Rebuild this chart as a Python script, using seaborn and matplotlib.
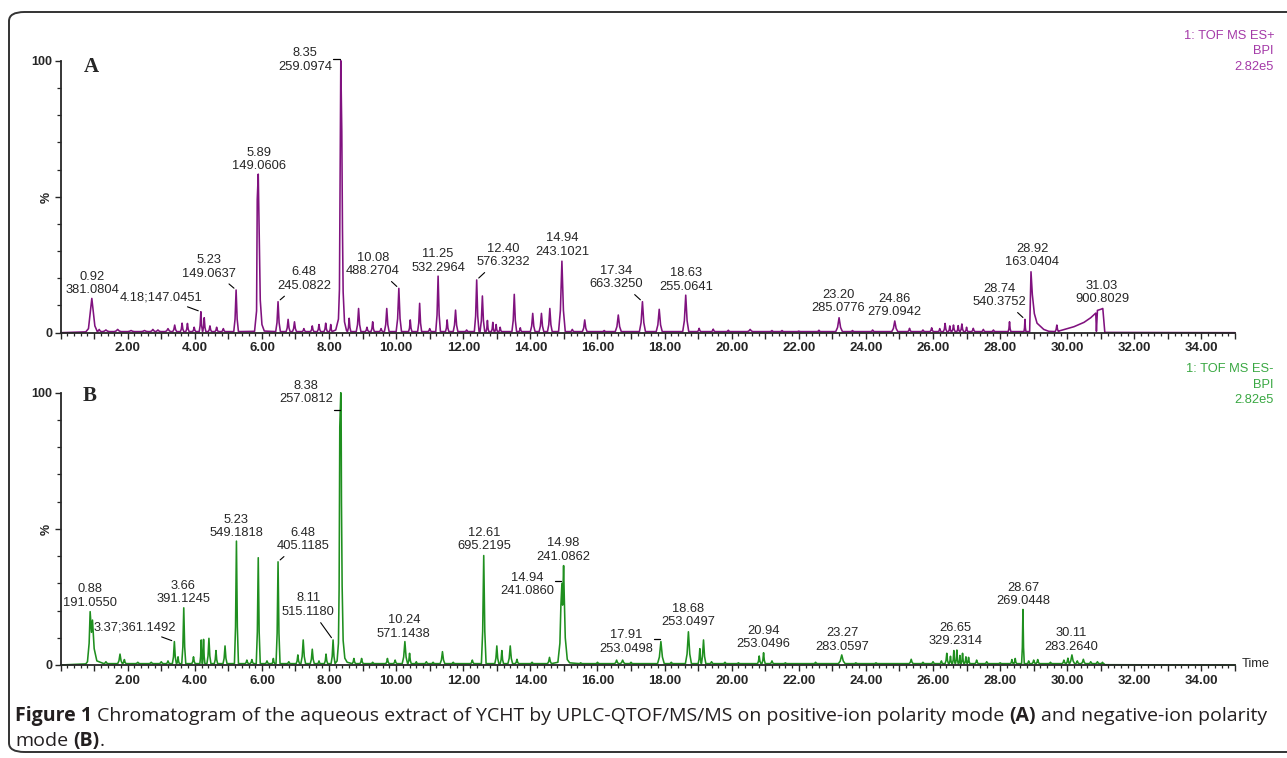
import matplotlib
matplotlib.use("Agg")
import matplotlib.pyplot as plt
import numpy as np
import pandas as pd
import seaborn as sns
from matplotlib.ticker import MultipleLocator, FuncFormatter
from matplotlib.patches import FancyBboxPatch

# ---------------- data ----------------
# Panel A, ESI+ : simple peaks (apex time, relative intensity %, half base width)
a_rt = [1.15, 1.35, 1.7, 2.1, 2.5, 2.75, 2.9, 3.2, 3.40, 3.62, 3.78, 3.98, 4.18, 4.28, 4.45,
        4.65, 4.85, 5.23, 6.48, 6.78, 6.97, 7.25, 7.5, 7.7, 7.9, 8.05, 8.60, 8.88, 9.13, 9.30,
        9.55, 9.72, 10.08, 10.42, 10.70, 11.0, 11.25, 11.52, 11.77, 12.1, 12.40, 12.57, 12.72,
        12.88, 12.98, 13.1, 13.52, 13.7, 14.07, 14.33, 14.58, 14.94, 15.25, 15.62, 16.2, 16.62,
        17.34, 17.84, 18.63, 19.03, 19.45, 19.9, 20.55, 21.2, 21.5, 22.0, 22.6, 23.20, 23.6,
        24.2, 24.86, 25.3, 25.7, 25.96, 26.2, 26.36, 26.5, 26.61, 26.75, 26.86, 27.0, 27.2,
        27.5, 27.8, 28.28, 28.74, 29.69]
a_int = [1.2, 1.0, 1.2, 0.8, 0.8, 1.2, 1.0, 1.5, 2.8, 3.5, 3.4, 2.0, 7.7, 5.5, 2.5,
         2.0, 1.5, 15.7, 11.4, 4.9, 4.0, 1.5, 2.5, 3.0, 3.5, 3.0, 5.3, 8.9, 2.0, 4.0,
         1.5, 8.9, 16.3, 4.7, 10.8, 1.5, 20.8, 4.7, 8.3, 1.0, 19.4, 13.5, 4.5,
         3.8, 3.0, 2.0, 14.1, 1.8, 7.1, 7.1, 8.9, 26.3, 1.2, 4.7, 0.8, 6.5,
         11.4, 8.6, 13.8, 1.6, 1.3, 0.9, 1.2, 0.8, 0.8, 0.6, 0.9, 5.5, 0.8,
         1.0, 4.3, 1.6, 1.0, 1.8, 1.5, 3.4, 2.5, 2.8, 2.6, 3.2, 2.0, 1.6,
         1.2, 1.0, 4.0, 4.9, 2.8]
a_wid = [0.06, 0.1, 0.1, 0.1, 0.1, 0.08, 0.08, 0.08, 0.06, 0.05, 0.05, 0.05, 0.05, 0.05, 0.05,
         0.05, 0.05, 0.07, 0.07, 0.06, 0.06, 0.05, 0.05, 0.05, 0.05, 0.04, 0.05, 0.07, 0.05, 0.05,
         0.05, 0.07, 0.08, 0.05, 0.06, 0.05, 0.07, 0.05, 0.07, 0.05, 0.07, 0.07, 0.04,
         0.04, 0.04, 0.04, 0.07, 0.04, 0.07, 0.07, 0.07, 0.10, 0.05, 0.07, 0.05, 0.09,
         0.09, 0.09, 0.09, 0.05, 0.05, 0.05, 0.08, 0.05, 0.05, 0.05, 0.05, 0.10, 0.05,
         0.05, 0.09, 0.05, 0.05, 0.05, 0.04, 0.05, 0.04, 0.05, 0.04, 0.05, 0.04, 0.05,
         0.05, 0.05, 0.04, 0.03, 0.05]
# Panel A : traced outline of the irregular features (start, 0.92, 5.89, 8.35, 28.92 tail, 31.03 ramp, end)
a_prof_t = [0.0, 0.75, 0.83, 0.88, 0.93, 0.97, 1.02, 1.08,
            5.78, 5.84, 5.86, 5.89, 5.92, 5.95, 6.0, 6.07,
            8.20, 8.28, 8.31, 8.35, 8.38, 8.40, 8.42, 8.46, 8.52,
            28.88, 28.92, 28.96, 29.02, 29.10, 29.30, 29.45,
            29.75, 30.2, 30.5, 30.7, 30.85, 30.87, 30.90, 31.0, 31.06, 31.12, 35.0]
a_prof_i = [0.0, 0.3, 1.5, 7.0, 12.6, 8.0, 2.5, 0.8,
            0.5, 8.0, 49.0, 58.3, 35.0, 12.0, 3.0, 0.6,
            1.0, 5.0, 16.0, 100.0, 74.0, 38.0, 15.0, 4.0, 0.8,
            0.4, 22.4, 14.0, 7.0, 3.5, 1.2, 0.5,
            0.6, 2.2, 3.8, 5.5, 7.2, 0.5, 8.2, 8.6, 8.9, 0.1, 0.0]

# Panel B, ESI- : simple peaks
b_rt = [1.35, 1.77, 1.9, 2.3, 2.7, 3.0, 3.2, 3.39, 3.5, 3.67, 3.96, 4.19, 4.26, 4.42, 4.63,
        4.90, 5.24, 5.55, 5.7, 5.89, 6.15, 6.34, 6.48, 6.8, 7.07, 7.23, 7.50, 7.7, 7.91, 8.12,
        8.74, 8.97, 9.3, 9.74, 9.97, 10.26, 10.4, 10.6, 10.9, 11.1, 11.38, 11.7, 12.27, 12.61,
        13.0, 13.15, 13.40, 13.6, 14.05, 14.57, 15.5, 16.0, 16.57, 16.75, 17.0, 17.89, 18.2,
        18.71, 19.05, 19.16, 19.4, 19.8, 20.2, 20.82, 20.95, 21.2, 21.6, 22.5, 23.28, 23.7,
        24.3, 25.35, 25.7, 26.0, 26.25, 26.41, 26.52, 26.62, 26.71, 26.8, 26.88, 26.98, 27.06,
        27.3, 27.6, 28.0, 28.35, 28.45, 28.68, 28.85, 29.0, 29.12, 29.5, 29.9, 30.02, 30.14,
        30.3, 30.48, 30.7, 30.9, 31.05]
b_int = [1.2, 4.0, 2.0, 1.0, 1.0, 1.2, 1.5, 8.6, 3.0, 21.0, 3.0, 9.2, 9.4, 9.8, 5.3,
         7.0, 45.5, 1.8, 2.0, 39.4, 1.5, 2.4, 37.9, 1.2, 3.7, 9.2, 5.8, 1.5, 4.0, 9.2,
         2.4, 2.4, 1.0, 2.4, 1.8, 8.6, 4.3, 1.2, 1.2, 1.0, 4.9, 1.0, 1.8, 40.2,
         7.0, 5.3, 7.0, 2.1, 1.0, 2.8, 0.8, 1.0, 1.8, 1.8, 1.0, 8.6, 1.0,
         12.2, 6.0, 9.2, 1.2, 1.0, 0.8, 3.3, 4.5, 1.5, 0.8, 1.0, 3.7, 0.8,
         0.8, 2.1, 1.0, 1.2, 1.5, 4.3, 3.2, 5.3, 5.5, 3.5, 4.3, 3.0, 2.8,
         1.8, 1.2, 0.8, 2.0, 2.4, 20.4, 1.5, 1.8, 2.0, 1.0, 1.8, 2.5, 3.7,
         1.5, 2.1, 1.2, 1.2, 1.0]
b_wid = [0.06, 0.07, 0.05, 0.06, 0.06, 0.06, 0.05, 0.06, 0.04, 0.06, 0.05, 0.04, 0.04, 0.06, 0.05,
         0.06, 0.06, 0.05, 0.05, 0.06, 0.05, 0.04, 0.06, 0.05, 0.05, 0.07, 0.06, 0.04, 0.05, 0.06,
         0.05, 0.05, 0.05, 0.05, 0.05, 0.08, 0.05, 0.04, 0.05, 0.05, 0.07, 0.05, 0.05, 0.07,
         0.06, 0.05, 0.07, 0.05, 0.05, 0.06, 0.05, 0.05, 0.06, 0.07, 0.05, 0.10, 0.05,
         0.09, 0.05, 0.07, 0.05, 0.05, 0.05, 0.05, 0.05, 0.05, 0.05, 0.05, 0.10, 0.05,
         0.05, 0.06, 0.05, 0.05, 0.04, 0.05, 0.04, 0.04, 0.04, 0.03, 0.04, 0.04, 0.04,
         0.05, 0.05, 0.05, 0.04, 0.04, 0.04, 0.04, 0.05, 0.05, 0.05, 0.05, 0.05, 0.08,
         0.05, 0.06, 0.05, 0.05, 0.04]
# Panel B : traced outline of the irregular features (start, 0.88, 8.38, 14.94/14.98, end)
b_prof_t = [0.0, 0.75, 0.80, 0.85, 0.88, 0.92, 0.95, 1.00, 1.08,
            8.24, 8.28, 8.30, 8.32, 8.35, 8.36, 8.37, 8.39, 8.42, 8.47, 8.54,
            14.82, 14.88, 14.91, 14.94, 14.96, 14.99, 15.01, 15.04, 15.10, 15.17,
            31.12, 35.0]
b_prof_i = [0.0, 0.4, 1.2, 8.0, 19.6, 12.0, 16.5, 6.0, 1.5,
            1.5, 8.0, 28.0, 87.5, 100.0, 93.0, 60.0, 29.0, 9.0, 2.5, 1.0,
            1.0, 8.0, 22.0, 30.0, 22.0, 36.5, 25.0, 10.0, 2.0, 0.8,
            0.1, 0.0]

# peak labels (retention time ; m/z)
a_lab_rt = ["0.92", "4.18", "5.23", "5.89", "6.48", "8.35", "10.08", "11.25", "12.40", "14.94",
            "17.34", "18.63", "23.20", "24.86", "28.74", "28.92", "31.03"]
a_lab_mz = ["381.0804", "147.0451", "149.0637", "149.0606", "245.0822", "259.0974", "488.2704",
            "532.2964", "576.3232", "243.1021", "663.3250", "255.0641", "285.0776", "279.0942",
            "540.3752", "163.0404", "900.8029"]
b_lab_rt = ["0.88", "3.37", "3.66", "5.23", "6.48", "8.11", "8.38", "10.24", "12.61", "14.98",
            "14.94", "17.91", "18.68", "20.94", "23.27", "26.65", "28.67", "30.11"]
b_lab_mz = ["191.0550", "361.1492", "391.1245", "549.1818", "405.1185", "515.1180", "257.0812",
            "571.1438", "695.2195", "241.0862", "241.0860", "253.0498", "253.0497", "253.0496",
            "283.0597", "329.2314", "269.0448", "283.2640"]
x_ticks = np.arange(0, 36, 1)

# ---------------- layout of the labels (text centre in data units) ----------------
a_lab_pos = [(0.94, 18.1), (2.99, 13.1), (4.42, 24.2), (5.91, 63.7), (7.26, 19.7), (7.28, 100.4),
             (9.31, 25.1), (11.25, 26.5), (13.19, 28.4), (14.95, 32.1), (16.55, 20.3),
             (18.64, 19.4), (23.17, 11.5), (24.84, 10.0), (27.97, 13.7), (28.95, 28.4),
             (31.04, 14.8)]
a_lab_style = ["", "single-lead", "lead", "", "lead", "bar", "lead", "", "lead", "",
               "lead", "", "", "", "lead", "", ""]
b_lab_pos = [(0.88, 25.2), (2.22, 13.9), (3.65, 26.6), (5.23, 50.9), (7.23, 46.1), (7.38, 21.9),
             (7.31, 100.1), (10.23, 14.1), (12.62, 46.1), (14.97, 42.1), (13.90, 29.6),
             (16.85, 8.3), (18.70, 18.2), (20.94, 10.1), (23.29, 9.3), (26.66, 11.2),
             (28.69, 25.9), (30.12, 9.3)]
b_lab_style = ["", "single-lead", "", "", "lead", "lead", "bar", "", "", "",
               "bar", "bar", "", "", "", "", "", ""]

PURPLE = "#80127f"
GREEN = "#1f8f1f"


def build_trace(rt, inten, wid, prof_t, prof_i, base=0.4):
    # each simple peak is drawn as a narrow spike: foot, flank, apex, flank, foot
    t = list(prof_t)
    i = list(prof_i)
    for r, h, w in zip(rt, inten, wid):
        t += [r - w, r - 0.45 * w, r, r + 0.45 * w, r + w]
        i += [base, base + 0.3 * (h - base), h, base + 0.3 * (h - base), base]
    df = pd.DataFrame({"time": t, "intensity": i})
    return df.sort_values("time", kind="mergesort").reset_index(drop=True)


trace_a = build_trace(a_rt, a_int, a_wid, a_prof_t, a_prof_i)
trace_b = build_trace(b_rt, b_int, b_wid, b_prof_t, b_prof_i, base=0.5)

sns.set_style("ticks")
plt.rcParams["font.family"] = ["Liberation Sans", "DejaVu Sans"]

fig = plt.figure(figsize=(12.87, 7.58), dpi=100)
axA = fig.add_axes([0.0471, 0.5611, 0.9125, 0.3588])
axB = fig.add_axes([0.0471, 0.1227, 0.9125, 0.3592])


def style_axis(ax):
    ax.set_xlim(0, 35)
    ax.set_ylim(0, 100)
    sns.despine(ax=ax)
    ax.spines["left"].set_linewidth(1.3)
    ax.spines["bottom"].set_linewidth(1.3)
    ax.set_xticks(x_ticks)
    ax.xaxis.set_minor_locator(MultipleLocator(0.2))
    ax.xaxis.set_major_formatter(FuncFormatter(
        lambda v, p: f"{v:.2f}" if v > 0 and int(round(v)) % 2 == 0 else ""))
    ax.set_yticks([0, 50, 100])
    ax.set_yticklabels(["0", "%", "100"])
    ax.get_yticklabels()[1].set_rotation(90)
    ax.yaxis.set_minor_locator(MultipleLocator(10))
    ax.tick_params(axis="x", which="major", length=4.5, width=1, pad=2.5, labelsize=9.5)
    ax.tick_params(axis="x", which="minor", length=2.3, width=0.9)
    ax.tick_params(axis="y", which="major", length=4.5, width=1, pad=1.5, labelsize=9)
    ax.tick_params(axis="y", which="minor", length=3, width=0.9)
    for lab in ax.get_xticklabels() + ax.get_yticklabels():
        lab.set_fontweight("bold")
    ax.set_xlabel("")
    ax.set_ylabel("")


def label_peaks(ax, trace, lab_rt, lab_mz, pos, styles):
    for r, mz, (lx, ly), st in zip(lab_rt, lab_mz, pos, styles):
        rv = float(r)
        near = trace[(trace["time"] >= rv - 0.03) & (trace["time"] <= rv + 0.03)]
        apex_t = near.loc[near["intensity"].idxmax(), "time"]
        apex_i = near["intensity"].max()
        txt = f"{r};{mz}" if st == "single-lead" else f"{r}\n{mz}"
        props = None
        if "lead" in st:
            props = dict(arrowstyle="-", color="black", lw=0.8, shrinkA=1, shrinkB=2)
        ax.annotate(txt, xy=(apex_t, apex_i), xytext=(lx, ly), ha="center", va="center",
                    fontsize=9.3, linespacing=1.2, arrowprops=props, annotation_clip=False)
        if st == "bar":
            ax.plot([apex_t - 0.22, apex_t - 0.02], [apex_i + 0.8, apex_i + 0.8],
                    color="black", lw=0.9, clip_on=False)


for ax, tr, col in [(axA, trace_a, PURPLE), (axB, trace_b, GREEN)]:
    sns.lineplot(data=tr, x="time", y="intensity", ax=ax, color=col, linewidth=1.15,
                 estimator=None, sort=False)
    for ln in ax.get_lines():
        ln.set_clip_on(False)
    style_axis(ax)

label_peaks(axA, trace_a, a_lab_rt, a_lab_mz, a_lab_pos, a_lab_style)
label_peaks(axB, trace_b, b_lab_rt, b_lab_mz, b_lab_pos, b_lab_style)

W, H = 1287.0, 758.0
fig.text(1274 / W, 1 - 51.5 / H, "1: TOF MS ES+\nBPI\n2.82e5", ha="right", va="center",
         color="#a43aa8", fontsize=9.3, linespacing=1.35)
fig.text(1274 / W, 1 - 384.5 / H, "1: TOF MS ES-\nBPI\n2.82e5", ha="right", va="center",
         color="#3aa843", fontsize=9.3, linespacing=1.35)
fig.text(91 / W, 1 - 67 / H, "A", ha="center", va="center", fontsize=15, fontweight="bold",
         family=["Liberation Serif", "DejaVu Serif"])
fig.text(90 / W, 1 - 396 / H, "B", ha="center", va="center", fontsize=15, fontweight="bold",
         family=["Liberation Serif", "DejaVu Serif"])
fig.text(1242 / W, 1 - 664 / H, "Time", ha="left", va="center", fontsize=9.3)

# frame round everything (its right side runs off the picture)
frame = FancyBboxPatch((9 / W, 1 - 752 / H), 2000 / W, 740 / H, transform=fig.transFigure,
                       boxstyle="round,pad=0,rounding_size=0.012", fill=False,
                       edgecolor="#333333", linewidth=1.4, clip_on=False)
fig.patches.append(frame)

# caption with bold pieces
renderer = fig.canvas.get_renderer()
cap_font = ["Open Sans", "DejaVu Sans"]


def caption_line(pieces, x_px, y_px):
    x = x_px
    for s, bold, gap in pieces:
        t = fig.text((x + gap) / W, 1 - y_px / H, s, ha="left", va="center", fontsize=14,
                     fontweight="bold" if bold else "normal", family=cap_font, color="#231f20")
        bb = t.get_window_extent(renderer)
        x = bb.x1


caption_line([("Figure 1", True, 0),
              ("Chromatogram of the aqueous extract of YCHT by UPLC-QTOF/MS/MS on positive-ion polarity mode", False, 5),
              ("(A)", True, 5), ("and negative-ion polarity", False, 5)], 15, 716)
caption_line([("mode", False, 0), ("(B)", True, 5), (".", False, 0.5)], 15, 741)

fig.savefig("out.png", dpi=100)
